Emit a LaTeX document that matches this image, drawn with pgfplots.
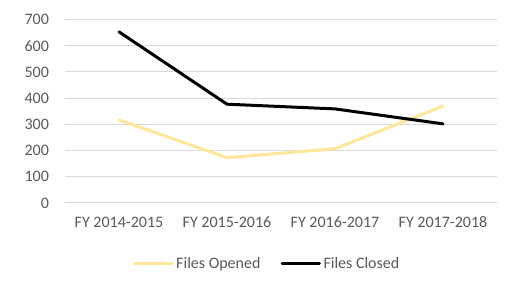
\documentclass[border=0pt]{standalone}
\usepackage{fontspec}
\setmainfont{Carlito}
\usepackage{pgfplots}
\pgfplotsset{compat=1.18}
\definecolor{txt}{HTML}{595959}
\definecolor{gridgray}{HTML}{D9D9D9}
\definecolor{opened}{HTML}{FFE699}
\begin{document}
\begin{tikzpicture}
\path[use as bounding box] (0,0) rectangle (385.5pt,216.75pt);
\begin{axis}[
  at={(48.75pt,64.5pt)}, anchor=south west,
  scale only axis, width=324pt, height=137.6pt,
  xmin=-0.5, xmax=3.5, ymin=0, ymax=700,
  xtick={0,1,2,3},
  xticklabels={FY 2014-2015,FY 2015-2016,FY 2016-2017,FY 2017-2018},
  ytick={0,100,...,700},
  axis line style={draw=none},
  major tick length=0pt,
  ymajorgrids, xmajorgrids=false,
  major grid style={draw=gridgray, line width=0.75pt},
  tick label style={font=\fontsize{12}{14}\selectfont, text=txt},
  /pgf/number format/assume math mode=true,
  yticklabel style={xshift=-8.5pt},
  xticklabel style={yshift=-7pt},
  legend style={at={(0.469,-0.332)}, anchor=center, draw=none, legend columns=2,
    font=\fontsize{12}{14}\selectfont, text=txt, inner sep=0pt,
    /tikz/every even column/.append style={column sep=13pt}},
  legend image code/.code={\draw[#1] (0pt,0pt) -- (28pt,0pt);},
  legend cell align=left,
]
\addplot[opened, line width=2.25pt, line join=round, line cap=round] coordinates {(0,317) (1,173) (2,207) (3,370)};
\addlegendentry{Files Opened}
\addplot[black, line width=2.25pt, line join=round, line cap=round] coordinates {(0,653) (1,377) (2,359) (3,302)};
\addlegendentry{Files Closed}
\end{axis}
\end{tikzpicture}
\end{document}
